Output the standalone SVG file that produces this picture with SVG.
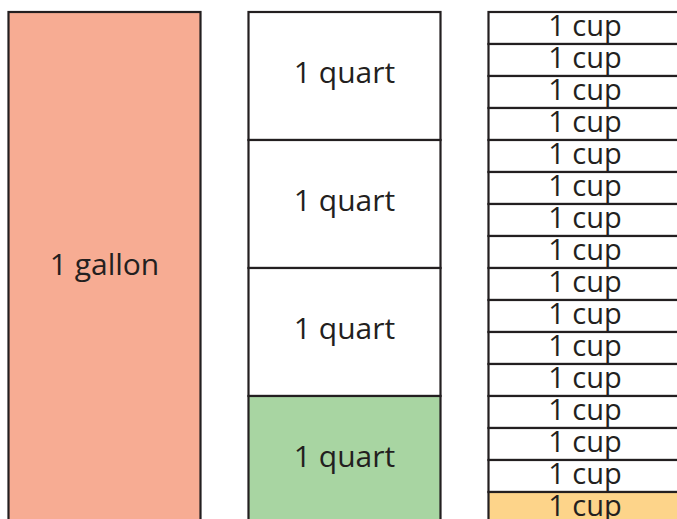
<svg xmlns="http://www.w3.org/2000/svg" width="677" height="519" viewBox="0 0 677 519">
<style>
rect{stroke:#231f20;stroke-width:2.2}
text{font-family:"Open Sans","Noto Sans",sans-serif;font-size:29px;fill:#231f20;text-anchor:middle}
.big{font-size:30px}
.w{fill:#fff}
</style>
<rect width="677" height="519" fill="#fff" style="stroke:none"/>
<g id="gallon"><rect x="8.5" y="12" width="192" height="512" fill="#f7ac93"/><text class="big" x="104.5" y="275">1 gallon</text></g>
<g id="quart1"><rect class="w" x="248.5" y="12" width="192" height="128"/><text class="big" x="344.5" y="83">1 quart</text></g>
<g id="quart2"><rect class="w" x="248.5" y="140" width="192" height="128"/><text class="big" x="344.5" y="211">1 quart</text></g>
<g id="quart3"><rect class="w" x="248.5" y="268" width="192" height="128"/><text class="big" x="344.5" y="339">1 quart</text></g>
<g id="quart4"><rect x="248.5" y="396" width="192" height="128" fill="#a8d5a2"/><text class="big" x="344.5" y="467">1 quart</text></g>
<g id="cup1"><rect class="w" x="488.5" y="12" width="200" height="32"/><text x="585" y="35.5">1 cup</text></g>
<g id="cup2"><rect class="w" x="488.5" y="44" width="200" height="32"/><text x="585" y="67.5">1 cup</text></g>
<g id="cup3"><rect class="w" x="488.5" y="76" width="200" height="32"/><text x="585" y="99.5">1 cup</text></g>
<g id="cup4"><rect class="w" x="488.5" y="108" width="200" height="32"/><text x="585" y="131.5">1 cup</text></g>
<g id="cup5"><rect class="w" x="488.5" y="140" width="200" height="32"/><text x="585" y="163.5">1 cup</text></g>
<g id="cup6"><rect class="w" x="488.5" y="172" width="200" height="32"/><text x="585" y="195.5">1 cup</text></g>
<g id="cup7"><rect class="w" x="488.5" y="204" width="200" height="32"/><text x="585" y="227.5">1 cup</text></g>
<g id="cup8"><rect class="w" x="488.5" y="236" width="200" height="32"/><text x="585" y="259.5">1 cup</text></g>
<g id="cup9"><rect class="w" x="488.5" y="268" width="200" height="32"/><text x="585" y="291.5">1 cup</text></g>
<g id="cup10"><rect class="w" x="488.5" y="300" width="200" height="32"/><text x="585" y="323.5">1 cup</text></g>
<g id="cup11"><rect class="w" x="488.5" y="332" width="200" height="32"/><text x="585" y="355.5">1 cup</text></g>
<g id="cup12"><rect class="w" x="488.5" y="364" width="200" height="32"/><text x="585" y="387.5">1 cup</text></g>
<g id="cup13"><rect class="w" x="488.5" y="396" width="200" height="32"/><text x="585" y="419.5">1 cup</text></g>
<g id="cup14"><rect class="w" x="488.5" y="428" width="200" height="32"/><text x="585" y="451.5">1 cup</text></g>
<g id="cup15"><rect class="w" x="488.5" y="460" width="200" height="32"/><text x="585" y="483.5">1 cup</text></g>
<g id="cup16"><rect x="488.5" y="492" width="200" height="32" fill="#fdd48a"/><text x="585" y="515.5">1 cup</text></g>
</svg>
